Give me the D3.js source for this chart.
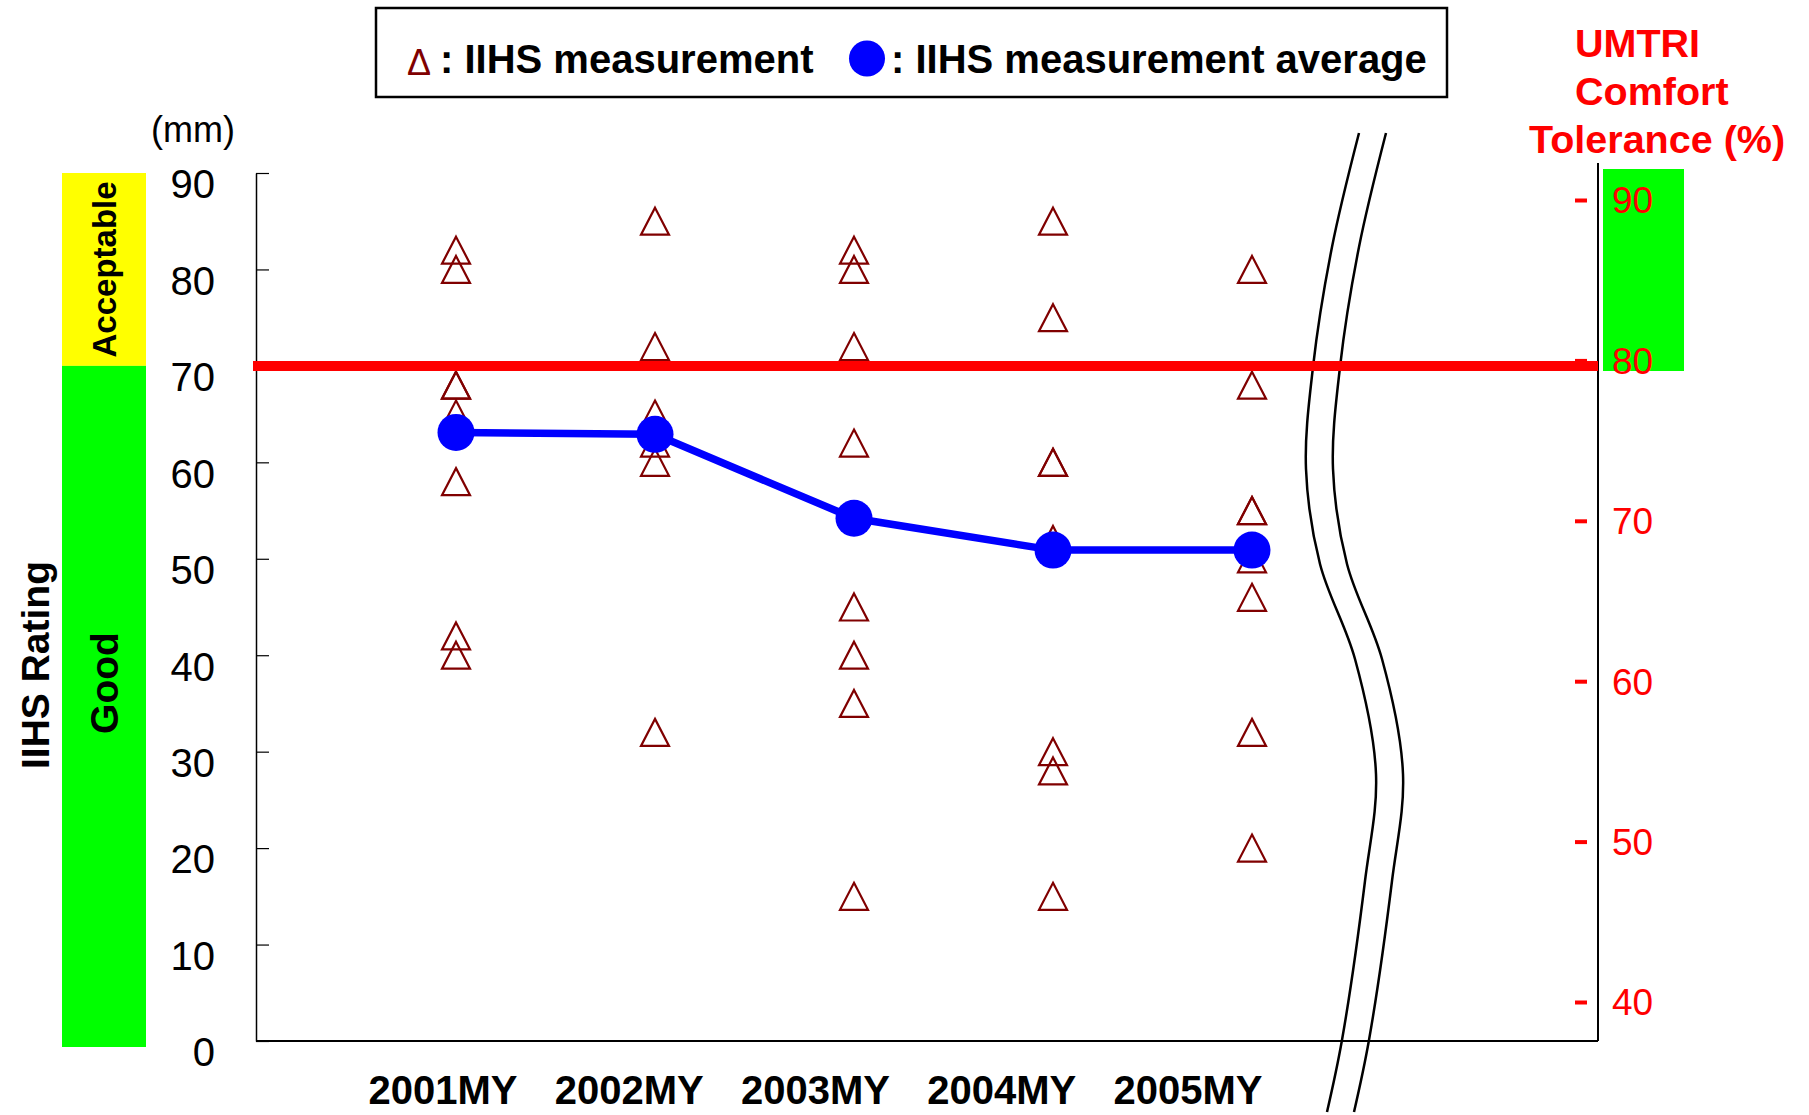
<!DOCTYPE html>
<html>
<head>
<meta charset="utf-8">
<script src="https://cdn.jsdelivr.net/npm/d3@7"></script>
<style>
  body { margin: 0; background: #fff; }
  svg text { font-family: "Liberation Sans", Arial, sans-serif; }
</style>
</head>
<body>
<div id="chart"></div>
<script>
// model years on the x axis
var years = ["2001MY", "2002MY", "2003MY", "2004MY", "2005MY"];

var m2001 = [82, 80, 68, 68, 65, 58, 42, 40];
var m2002 = [85, 72, 65, 62, 60, 32];
var m2003 = [82, 80, 72, 62, 45, 40, 35, 15];
var m2004 = [85, 75, 60, 60, 52, 30, 28, 15];
var m2005 = [80, 68, 55, 55, 50, 46, 32, 20];

// yearly averages (blue dots)
var averages = [63.1, 62.9, 54.2, 50.9, 50.9];

var leftTicks = [0, 10, 20, 30, 40, 50, 60, 70, 80, 90];
var rightTicks = [40, 50, 60, 70, 80, 90];
var comfortLimit = 70;   // mm, red line

var ratingBands = [
  { label: "Acceptable", from: 70, to: 90, fill: "#ffff00", size: 33 },
  { label: "Good", from: 0, to: 70, fill: "#00ff00", size: 39 }
];

var legendItems = [
  { text: ": IIHS measurement" },
  { text: ": IIHS measurement average" }
];

!function () {
  'use strict';

  var width = 1809, height = 1115;
  var left = 256, right = 1598, bottom = 1041;

  var svg = d3.select("#chart").append("svg")
    .attr("width", width)
    .attr("height", height);

  var x = d3.scalePoint().domain(years).range([456, 1252]);
  var xLabel = d3.scalePoint().domain(years).range([443, 1188]);
  var yL = d3.scaleLinear().domain([0, 90]).range([bottom, 173]);
  var yR = d3.scaleLinear().domain([40, 90]).range([1002, 200]);

  // rating bands on the far left
  var bands = svg.append("g");
  bands.selectAll("rect")
    .data(ratingBands)
    .enter().append("rect")
    .attr("x", 62)
    .attr("width", 84)
    .attr("y", function (d) { return yL(d.to); })
    .attr("height", function (d) { return yL(d.from) - yL(d.to) + (d.from === 0 ? 6 : 0); })
    .style("fill", function (d) { return d.fill; });

  bands.selectAll("text")
    .data(ratingBands)
    .enter().append("text")
    .attr("transform", function (d) {
      var cy = d.from === 0 ? 683 : (yL(d.from) + yL(d.to)) / 2;
      return "translate(" + (104 + d.size * 0.36) + "," + cy + ") rotate(-90)";
    })
    .attr("text-anchor", "middle")
    .style("font-weight", "bold")
    .style("font-size", function (d) { return d.size + "px"; })
    .text(function (d) { return d.label; });

  svg.append("text")
    .attr("transform", "translate(49,665) rotate(-90)")
    .attr("text-anchor", "middle")
    .style("font-weight", "bold")
    .style("font-size", "39px")
    .text("IIHS Rating");

  svg.append("text")
    .attr("x", 193).attr("y", 142)
    .attr("text-anchor", "middle")
    .style("font-size", "36px")
    .text("(mm)");

  // left axis, ticks pointing inward
  var axL = svg.append("g")
    .attr("transform", "translate(" + left + ",0)")
    .call(d3.axisLeft(yL).tickValues(leftTicks).tickSize(-13).tickSizeOuter(0).tickPadding(41));
  axL.select(".domain").attr("stroke", "#000").attr("stroke-width", 1.5);
  axL.selectAll(".tick line").attr("stroke", "#000").attr("stroke-width", 1.2);
  axL.selectAll(".tick text")
    .attr("dy", "0.62em")
    .style("font-size", "40px")
    .style("font-family", "'Liberation Sans', Arial, sans-serif")
    .attr("fill", "#000");

  // bottom axis line only
  svg.append("line")
    .attr("x1", left).attr("x2", right)
    .attr("y1", bottom).attr("y2", bottom)
    .attr("stroke", "#000").attr("stroke-width", 2);

  svg.selectAll("text.year")
    .data(years)
    .enter().append("text")
    .attr("class", "year")
    .attr("x", function (d) { return xLabel(d); })
    .attr("y", 1104)
    .attr("text-anchor", "middle")
    .style("font-weight", "bold")
    .style("font-size", "40px")
    .text(function (d) { return d; });

  // right axis: UMTRI comfort tolerance
  var axR = svg.append("g")
    .attr("transform", "translate(" + right + ",0)")
    .call(d3.axisRight(yR).tickValues(rightTicks).tickSize(0).tickPadding(14));
  axR.select(".domain").remove();

  svg.append("rect")
    .attr("x", 1603).attr("width", 81)
    .attr("y", 169).attr("height", 202)
    .style("fill", "#00ff00");

  axR.raise();
  axR.append("line")
    .attr("x1", 0).attr("x2", 0)
    .attr("y1", 163).attr("y2", bottom)
    .attr("stroke", "#000").attr("stroke-width", 2);
  axR.selectAll(".tick text")
    .attr("dy", "0.35em")
    .style("font-size", "37px")
    .style("font-family", "'Liberation Sans', Arial, sans-serif")
    .attr("fill", "#ff0000");
  axR.selectAll(".tick").append("line")
    .attr("x1", -23).attr("x2", -11)
    .attr("stroke", "#ff0000").attr("stroke-width", 4);

  var title = ["UMTRI", "Comfort", "Tolerance (%)"];
  var titleX = [1575, 1575, 1529];
  svg.selectAll("text.rtitle")
    .data(title)
    .enter().append("text")
    .attr("class", "rtitle")
    .attr("x", function (d, i) { return titleX[i]; })
    .attr("y", function (d, i) { return 57 + i * 48; })
    .attr("fill", "#ff0000")
    .style("font-weight", "bold")
    .style("font-size", "39.5px")
    .text(function (d) { return d; });

  // axis break marks
  var breakPts = [[1359, 133], [1332, 247], [1313, 367], [1306, 469], [1320, 564],
    [1355, 659], [1376, 774], [1365, 881], [1342, 1040], [1327, 1112]];
  var curve = d3.line().curve(d3.curveCatmullRom);
  [0, 27].forEach(function (dx) {
    svg.append("path")
      .attr("d", curve(breakPts.map(function (p) { return [p[0] + dx, p[1]]; })))
      .attr("fill", "none")
      .attr("stroke", "#000")
      .attr("stroke-width", 2.5);
  });

  // measurement triangles
  var series = [m2001, m2002, m2003, m2004, m2005];
  var points = [];
  series.forEach(function (vals, i) {
    vals.forEach(function (v) { points.push({ year: years[i], value: v }); });
  });

  svg.append("g").selectAll("path")
    .data(points)
    .enter().append("path")
    .attr("d", "M0,-13.5L14,13.5L-14,13.5Z")
    .attr("transform", function (d) { return "translate(" + x(d.year) + "," + yL(d.value) + ")"; })
    .style("fill", "none")
    .style("stroke", "#800000")
    .style("stroke-width", 2.2);

  // 70 mm comfort line
  svg.append("line")
    .attr("x1", left - 3).attr("x2", right)
    .attr("y1", yL(comfortLimit)).attr("y2", yL(comfortLimit))
    .attr("stroke", "#ff0000").attr("stroke-width", 10);

  // averages
  var avg = years.map(function (yr, i) { return { year: yr, value: averages[i] }; });
  var line = d3.line()
    .x(function (d) { return x(d.year); })
    .y(function (d) { return yL(d.value); });

  svg.append("path")
    .datum(avg)
    .attr("d", line)
    .attr("fill", "none")
    .attr("stroke", "#0000ff")
    .attr("stroke-width", 7.5);

  svg.append("g").selectAll("circle")
    .data(avg)
    .enter().append("circle")
    .attr("cx", function (d) { return x(d.year); })
    .attr("cy", function (d) { return yL(d.value); })
    .attr("r", 18.5)
    .style("fill", "#0000ff");

  // legend
  var lg = svg.append("g");
  lg.append("rect")
    .attr("x", 376).attr("y", 8)
    .attr("width", 1071).attr("height", 89)
    .attr("fill", "#fff")
    .attr("stroke", "#000")
    .attr("stroke-width", 2.5);
  lg.append("text")
    .attr("x", 407).attr("y", 75)
    .attr("fill", "#800000")
    .style("font-size", "36px")
    .text("\u0394");
  lg.append("circle")
    .attr("cx", 867).attr("cy", 58.5).attr("r", 18)
    .style("fill", "#0000ff");
  lg.selectAll("text.item")
    .data(legendItems)
    .enter().append("text")
    .attr("class", "item")
    .attr("x", function (d, i) { return i === 0 ? 440 : 891; })
    .attr("y", 73)
    .style("font-weight", "bold")
    .style("font-size", "40px")
    .text(function (d) { return d.text; });

}();
</script>
</body>
</html>
